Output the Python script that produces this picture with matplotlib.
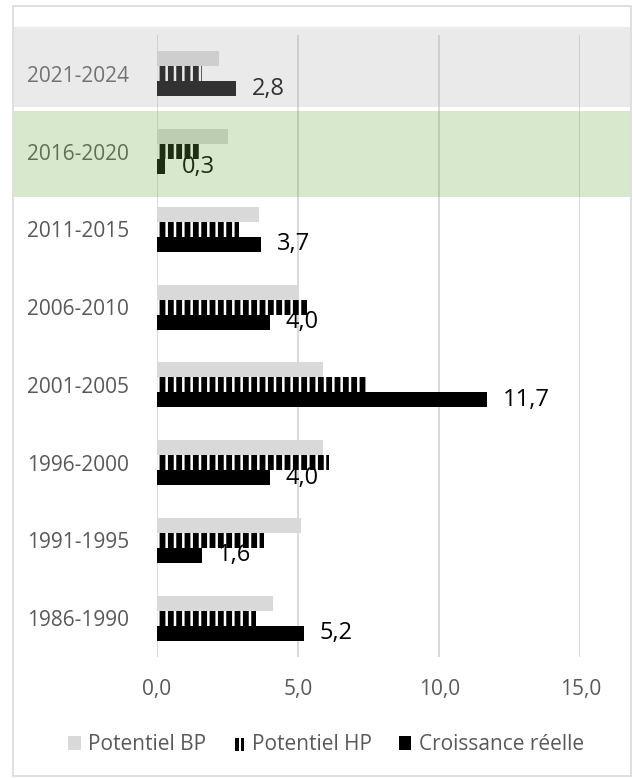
import matplotlib
matplotlib.use("Agg")
import matplotlib.pyplot as plt
import matplotlib.patches as mpatches
import matplotlib.ticker as mticker
from matplotlib.legend_handler import HandlerBase
import numpy as np

periods = ['1986-1990', '1991-1995', '1996-2000', '2001-2005',
           '2006-2010', '2011-2015', '2016-2020', '2021-2024']
potentiel_bp = [4.1, 5.1, 5.9, 5.9, 5.0, 3.6, 2.5, 2.2]
potentiel_hp = [3.5, 3.8, 6.1, 7.4, 5.3, 2.9, 1.5, 1.6]
croissance = [5.2, 1.6, 4.0, 11.7, 4.0, 3.7, 0.3, 2.8]
x_ticks = [0, 5, 10, 15]

W, H = 633, 778
plt.rcParams['font.family'] = ['Open Sans', 'DejaVu Sans']
plt.rcParams['hatch.linewidth'] = 4.2

GREY_TXT = '#595959'
fig = plt.figure(figsize=(W / 100, H / 100), dpi=100)
fig.patch.set_facecolor('white')


def fx(px):
    return px / W


def fy(py):
    return 1 - py / H


class StripeHandler(HandlerBase):
    # two vertical bars, like the striped series swatch
    def create_artists(self, legend, orig_handle, xd, yd, width, height,
                       fontsize, trans):
        w = width * 0.28
        bars = [mpatches.Rectangle((xd + width * x0, yd), w, height,
                                   facecolor='black', linewidth=0,
                                   transform=trans)
                for x0 in (0.22, 0.62)]
        return bars


ax = fig.add_axes([fx(157), fy(657), fx(580.3) - fx(157), fy(35) - fy(657)])

y = np.arange(len(periods))
h = 0.193
ax.barh(y + h, potentiel_bp, height=h, color='#D9D9D9', zorder=2)
ax.barh(y, potentiel_hp, height=h, color='white', edgecolor='black',
        hatch='||', linewidth=0, zorder=2)
bars = ax.barh(y - h, croissance, height=h, color='black', zorder=2)

for rect, v in zip(bars, croissance):
    ax.annotate(f'{v:.1f}'.replace('.', ','),
                (rect.get_width(), rect.get_y() + rect.get_height() / 2),
                xytext=(11.5, 0), textcoords='offset points',
                ha='left', va='center', fontsize=17, color='black')

ax.set_xlim(0, 15)
ax.set_ylim(-0.5, len(periods) - 0.5)
ax.set_xticks(x_ticks)
ax.xaxis.set_major_formatter(mticker.FuncFormatter(
    lambda v, _: f'{v:.1f}'.replace('.', ',')))
ax.set_yticks(y)
ax.set_yticklabels(periods)
ax.tick_params(axis='x', length=0, pad=16, labelsize=15, labelcolor=GREY_TXT)
ax.tick_params(axis='y', length=0, pad=20, labelsize=15, labelcolor=GREY_TXT)
ax.grid(axis='x', color='#D9D9D9', linewidth=1.4, zorder=0)
ax.set_axisbelow(True)
for s in ax.spines.values():
    s.set_visible(False)
ax.set_facecolor('none')

# chart border
fig.add_artist(mpatches.Rectangle((fx(13), fy(776)), fx(630.5) - fx(13),
                                  fy(6) - fy(776), transform=fig.transFigure,
                                  fill=False, edgecolor='#D9D9D9',
                                  linewidth=1.2, zorder=0))

# shaded overlays on the two most recent periods
fig.add_artist(mpatches.Rectangle((fx(13.5), fy(107)), fx(630) - fx(13.5),
                                  fy(27) - fy(107), transform=fig.transFigure,
                                  facecolor='#B5B5B5', alpha=0.28,
                                  linewidth=0, zorder=5))
fig.add_artist(mpatches.Rectangle((fx(14), fy(197)), fx(630) - fx(14),
                                  fy(111) - fy(197), transform=fig.transFigure,
                                  facecolor='#70AD47', alpha=0.27,
                                  linewidth=0, zorder=5))

hp_handle = mpatches.Patch(facecolor='white', label='Potentiel HP')
handles = [
    mpatches.Patch(facecolor='#D9D9D9', linewidth=0, label='Potentiel BP'),
    hp_handle,
    mpatches.Patch(facecolor='black', linewidth=0, label='Croissance réelle'),
]
leg = fig.legend(handles=handles, loc='center', ncol=3,
                 bbox_to_anchor=(fx(326), fy(745)), frameon=False,
                 fontsize=15, handlelength=0.62, handleheight=0.62,
                 handletextpad=0.34, columnspacing=1.25, labelcolor=GREY_TXT,
                 handler_map={hp_handle: StripeHandler()})

fig.savefig('out.png', dpi=100)
